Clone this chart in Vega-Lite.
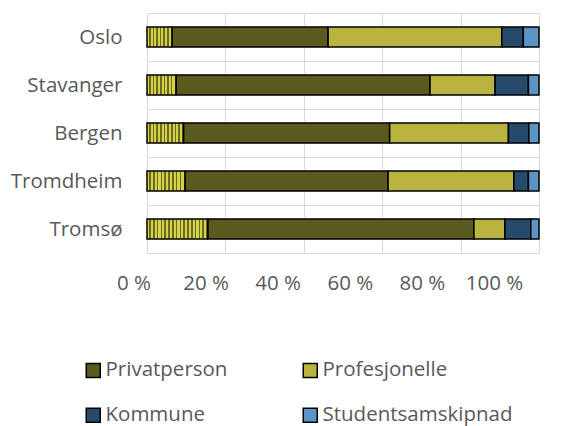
{
  "$schema": "https://vega.github.io/schema/vega-lite/v6.json",
  "autosize": "none",
  "width": 392,
  "height": 240,
  "padding": {"left": 147, "top": 13, "right": 30, "bottom": 173},
  "config": {
    "view": {"stroke": null},
    "font": "Open Sans"
  },
  "data": {
    "values": [
      {"city": "Oslo", "type": "Annet", "value": 6.4},
      {"city": "Oslo", "type": "Privatperson", "value": 39.8},
      {"city": "Oslo", "type": "Profesjonelle", "value": 44.3},
      {"city": "Oslo", "type": "Kommune", "value": 5.5},
      {"city": "Oslo", "type": "Studentsamskipnad", "value": 4.0},
      {"city": "Stavanger", "type": "Annet", "value": 7.4},
      {"city": "Stavanger", "type": "Privatperson", "value": 64.8},
      {"city": "Stavanger", "type": "Profesjonelle", "value": 16.6},
      {"city": "Stavanger", "type": "Kommune", "value": 8.5},
      {"city": "Stavanger", "type": "Studentsamskipnad", "value": 2.7},
      {"city": "Bergen", "type": "Annet", "value": 9.3},
      {"city": "Bergen", "type": "Privatperson", "value": 52.6},
      {"city": "Bergen", "type": "Profesjonelle", "value": 30.3},
      {"city": "Bergen", "type": "Kommune", "value": 5.2},
      {"city": "Bergen", "type": "Studentsamskipnad", "value": 2.6},
      {"city": "Tromdheim", "type": "Annet", "value": 9.7},
      {"city": "Tromdheim", "type": "Privatperson", "value": 51.8},
      {"city": "Tromdheim", "type": "Profesjonelle", "value": 32.1},
      {"city": "Tromdheim", "type": "Kommune", "value": 3.7},
      {"city": "Tromdheim", "type": "Studentsamskipnad", "value": 2.7},
      {"city": "Tromsø", "type": "Annet", "value": 15.5},
      {"city": "Tromsø", "type": "Privatperson", "value": 67.9},
      {"city": "Tromsø", "type": "Profesjonelle", "value": 7.9},
      {"city": "Tromsø", "type": "Kommune", "value": 6.6},
      {"city": "Tromsø", "type": "Studentsamskipnad", "value": 2.1}
    ]
  },
  "transform": [
    {"stack": "value", "groupby": ["city"], "offset": "normalize", "as": ["x0", "x1"]}
  ],
  "encoding": {
    "y": {
      "field": "city",
      "type": "nominal",
      "sort": ["Oslo", "Stavanger", "Bergen", "Tromdheim", "Tromsø"],
      "scale": {"paddingInner": 0, "paddingOuter": 0},
      "axis": {
        "title": null,
        "domain": false,
        "ticks": false,
        "tickSize": 0,
        "grid": true,
        "tickBand": "extent",
        "gridColor": "#D9D9D9",
        "gridWidth": 1,
        "labelPadding": 25,
        "labelFontSize": 20.5,
        "labelFont": "Open Sans",
        "labelColor": "#595959"
      }
    },
    "x": {
      "field": "x0",
      "type": "quantitative",
      "scale": {"domain": [0, 1], "nice": false},
      "axis": {
        "title": null,
        "values": [0, 0.2, 0.4, 0.6, 0.8, 1],
        "labelExpr": "round(datum.value*100) + ' %'",
        "labelOverlap": false,
        "labelFlush": false,
        "domain": false,
        "ticks": false,
        "tickSize": 0,
        "grid": true,
        "gridColor": "#D9D9D9",
        "gridWidth": 1,
        "labelPadding": 20,
        "labelFontSize": 20.5,
        "labelFont": "Open Sans",
        "labelColor": "#595959",
        "labelOffset": {"expr": "-13.5 - 31.5*datum.value"}
      }
    },
    "x2": {"field": "x1"}
  },
  "layer": [
    {
      "transform": [{"filter": "datum.type !== 'Annet'"}],
      "mark": {"type": "bar", "stroke": "black", "strokeWidth": 1.5, "height": {"band": 0.42}},
      "encoding": {
        "color": {
          "field": "type",
          "type": "nominal",
          "scale": {
            "domain": ["Privatperson", "Profesjonelle", "Kommune", "Studentsamskipnad"],
            "range": ["#5B5A1E", "#B8B43F", "#274A6A", "#5B94C5"]
          },
          "legend": {
            "orient": "none",
            "direction": "horizontal",
            "legendX": -64,
            "legendY": 347,
            "columns": 2,
            "title": null,
            "symbolType": "square",
            "symbolSize": 196,
            "symbolStrokeColor": "black",
            "symbolStrokeWidth": 1.5,
            "symbolOpacity": 1,
            "labelFontSize": 20.5,
            "labelFont": "Open Sans",
            "labelColor": "#595959",
            "labelOffset": 2,
            "labelLimit": 400,
            "rowPadding": 24,
            "columnPadding": 72
          }
        }
      }
    },
    {
      "transform": [{"filter": "datum.type === 'Annet' && datum.city === 'Oslo'"}],
      "mark": {"type": "bar", "stroke": "black", "strokeWidth": 1.5, "height": {"band": 0.42},
        "fill": {"gradient": "linear", "x1": 0, "x2": 1, "y1": 0, "y2": 0, "stops": [
          {"offset": 0, "color": "#D4D146"}, {"offset": 0.0857, "color": "#D4D146"}, {"offset": 0.0857, "color": "#6B6A24"}, {"offset": 0.1429, "color": "#6B6A24"},
          {"offset": 0.1429, "color": "#D4D146"}, {"offset": 0.2286, "color": "#D4D146"}, {"offset": 0.2286, "color": "#6B6A24"}, {"offset": 0.2857, "color": "#6B6A24"},
          {"offset": 0.2857, "color": "#D4D146"}, {"offset": 0.3714, "color": "#D4D146"}, {"offset": 0.3714, "color": "#6B6A24"}, {"offset": 0.4286, "color": "#6B6A24"},
          {"offset": 0.4286, "color": "#D4D146"}, {"offset": 0.5143, "color": "#D4D146"}, {"offset": 0.5143, "color": "#6B6A24"}, {"offset": 0.5714, "color": "#6B6A24"},
          {"offset": 0.5714, "color": "#D4D146"}, {"offset": 0.6571, "color": "#D4D146"}, {"offset": 0.6571, "color": "#6B6A24"}, {"offset": 0.7143, "color": "#6B6A24"},
          {"offset": 0.7143, "color": "#D4D146"}, {"offset": 0.8, "color": "#D4D146"}, {"offset": 0.8, "color": "#6B6A24"}, {"offset": 0.8571, "color": "#6B6A24"},
          {"offset": 0.8571, "color": "#D4D146"}, {"offset": 0.9429, "color": "#D4D146"}, {"offset": 0.9429, "color": "#6B6A24"}, {"offset": 1, "color": "#6B6A24"}
        ]}}
    },
    {
      "transform": [{"filter": "datum.type === 'Annet' && datum.city === 'Stavanger'"}],
      "mark": {"type": "bar", "stroke": "black", "strokeWidth": 1.5, "height": {"band": 0.42},
        "fill": {"gradient": "linear", "x1": 0, "x2": 1, "y1": 0, "y2": 0, "stops": [
          {"offset": 0, "color": "#D4D146"}, {"offset": 0.075, "color": "#D4D146"}, {"offset": 0.075, "color": "#6B6A24"}, {"offset": 0.125, "color": "#6B6A24"},
          {"offset": 0.125, "color": "#D4D146"}, {"offset": 0.2, "color": "#D4D146"}, {"offset": 0.2, "color": "#6B6A24"}, {"offset": 0.25, "color": "#6B6A24"},
          {"offset": 0.25, "color": "#D4D146"}, {"offset": 0.325, "color": "#D4D146"}, {"offset": 0.325, "color": "#6B6A24"}, {"offset": 0.375, "color": "#6B6A24"},
          {"offset": 0.375, "color": "#D4D146"}, {"offset": 0.45, "color": "#D4D146"}, {"offset": 0.45, "color": "#6B6A24"}, {"offset": 0.5, "color": "#6B6A24"},
          {"offset": 0.5, "color": "#D4D146"}, {"offset": 0.575, "color": "#D4D146"}, {"offset": 0.575, "color": "#6B6A24"}, {"offset": 0.625, "color": "#6B6A24"},
          {"offset": 0.625, "color": "#D4D146"}, {"offset": 0.7, "color": "#D4D146"}, {"offset": 0.7, "color": "#6B6A24"}, {"offset": 0.75, "color": "#6B6A24"},
          {"offset": 0.75, "color": "#D4D146"}, {"offset": 0.825, "color": "#D4D146"}, {"offset": 0.825, "color": "#6B6A24"}, {"offset": 0.875, "color": "#6B6A24"},
          {"offset": 0.875, "color": "#D4D146"}, {"offset": 0.95, "color": "#D4D146"}, {"offset": 0.95, "color": "#6B6A24"}, {"offset": 1, "color": "#6B6A24"}
        ]}}
    },
    {
      "transform": [{"filter": "datum.type === 'Annet' && (datum.city === 'Bergen' || datum.city === 'Tromdheim')"}],
      "mark": {"type": "bar", "stroke": "black", "strokeWidth": 1.5, "height": {"band": 0.42},
        "fill": {"gradient": "linear", "x1": 0, "x2": 1, "y1": 0, "y2": 0, "stops": [
          {"offset": 0, "color": "#D4D146"}, {"offset": 0.06, "color": "#D4D146"}, {"offset": 0.06, "color": "#6B6A24"}, {"offset": 0.1, "color": "#6B6A24"},
          {"offset": 0.1, "color": "#D4D146"}, {"offset": 0.16, "color": "#D4D146"}, {"offset": 0.16, "color": "#6B6A24"}, {"offset": 0.2, "color": "#6B6A24"},
          {"offset": 0.2, "color": "#D4D146"}, {"offset": 0.26, "color": "#D4D146"}, {"offset": 0.26, "color": "#6B6A24"}, {"offset": 0.3, "color": "#6B6A24"},
          {"offset": 0.3, "color": "#D4D146"}, {"offset": 0.36, "color": "#D4D146"}, {"offset": 0.36, "color": "#6B6A24"}, {"offset": 0.4, "color": "#6B6A24"},
          {"offset": 0.4, "color": "#D4D146"}, {"offset": 0.46, "color": "#D4D146"}, {"offset": 0.46, "color": "#6B6A24"}, {"offset": 0.5, "color": "#6B6A24"},
          {"offset": 0.5, "color": "#D4D146"}, {"offset": 0.56, "color": "#D4D146"}, {"offset": 0.56, "color": "#6B6A24"}, {"offset": 0.6, "color": "#6B6A24"},
          {"offset": 0.6, "color": "#D4D146"}, {"offset": 0.66, "color": "#D4D146"}, {"offset": 0.66, "color": "#6B6A24"}, {"offset": 0.7, "color": "#6B6A24"},
          {"offset": 0.7, "color": "#D4D146"}, {"offset": 0.76, "color": "#D4D146"}, {"offset": 0.76, "color": "#6B6A24"}, {"offset": 0.8, "color": "#6B6A24"},
          {"offset": 0.8, "color": "#D4D146"}, {"offset": 0.86, "color": "#D4D146"}, {"offset": 0.86, "color": "#6B6A24"}, {"offset": 0.9, "color": "#6B6A24"},
          {"offset": 0.9, "color": "#D4D146"}, {"offset": 0.96, "color": "#D4D146"}, {"offset": 0.96, "color": "#6B6A24"}, {"offset": 1, "color": "#6B6A24"}
        ]}}
    },
    {
      "transform": [{"filter": "datum.type === 'Annet' && datum.city === 'Tromsø'"}],
      "mark": {"type": "bar", "stroke": "black", "strokeWidth": 1.5, "height": {"band": 0.42},
        "fill": {"gradient": "linear", "x1": 0, "x2": 1, "y1": 0, "y2": 0, "stops": [
          {"offset": 0, "color": "#D4D146"}, {"offset": 0.0375, "color": "#D4D146"}, {"offset": 0.0375, "color": "#6B6A24"}, {"offset": 0.0625, "color": "#6B6A24"},
          {"offset": 0.0625, "color": "#D4D146"}, {"offset": 0.1, "color": "#D4D146"}, {"offset": 0.1, "color": "#6B6A24"}, {"offset": 0.125, "color": "#6B6A24"},
          {"offset": 0.125, "color": "#D4D146"}, {"offset": 0.1625, "color": "#D4D146"}, {"offset": 0.1625, "color": "#6B6A24"}, {"offset": 0.1875, "color": "#6B6A24"},
          {"offset": 0.1875, "color": "#D4D146"}, {"offset": 0.225, "color": "#D4D146"}, {"offset": 0.225, "color": "#6B6A24"}, {"offset": 0.25, "color": "#6B6A24"},
          {"offset": 0.25, "color": "#D4D146"}, {"offset": 0.2875, "color": "#D4D146"}, {"offset": 0.2875, "color": "#6B6A24"}, {"offset": 0.3125, "color": "#6B6A24"},
          {"offset": 0.3125, "color": "#D4D146"}, {"offset": 0.35, "color": "#D4D146"}, {"offset": 0.35, "color": "#6B6A24"}, {"offset": 0.375, "color": "#6B6A24"},
          {"offset": 0.375, "color": "#D4D146"}, {"offset": 0.4125, "color": "#D4D146"}, {"offset": 0.4125, "color": "#6B6A24"}, {"offset": 0.4375, "color": "#6B6A24"},
          {"offset": 0.4375, "color": "#D4D146"}, {"offset": 0.475, "color": "#D4D146"}, {"offset": 0.475, "color": "#6B6A24"}, {"offset": 0.5, "color": "#6B6A24"},
          {"offset": 0.5, "color": "#D4D146"}, {"offset": 0.5375, "color": "#D4D146"}, {"offset": 0.5375, "color": "#6B6A24"}, {"offset": 0.5625, "color": "#6B6A24"},
          {"offset": 0.5625, "color": "#D4D146"}, {"offset": 0.6, "color": "#D4D146"}, {"offset": 0.6, "color": "#6B6A24"}, {"offset": 0.625, "color": "#6B6A24"},
          {"offset": 0.625, "color": "#D4D146"}, {"offset": 0.6625, "color": "#D4D146"}, {"offset": 0.6625, "color": "#6B6A24"}, {"offset": 0.6875, "color": "#6B6A24"},
          {"offset": 0.6875, "color": "#D4D146"}, {"offset": 0.725, "color": "#D4D146"}, {"offset": 0.725, "color": "#6B6A24"}, {"offset": 0.75, "color": "#6B6A24"},
          {"offset": 0.75, "color": "#D4D146"}, {"offset": 0.7875, "color": "#D4D146"}, {"offset": 0.7875, "color": "#6B6A24"}, {"offset": 0.8125, "color": "#6B6A24"},
          {"offset": 0.8125, "color": "#D4D146"}, {"offset": 0.85, "color": "#D4D146"}, {"offset": 0.85, "color": "#6B6A24"}, {"offset": 0.875, "color": "#6B6A24"},
          {"offset": 0.875, "color": "#D4D146"}, {"offset": 0.9125, "color": "#D4D146"}, {"offset": 0.9125, "color": "#6B6A24"}, {"offset": 0.9375, "color": "#6B6A24"},
          {"offset": 0.9375, "color": "#D4D146"}, {"offset": 0.975, "color": "#D4D146"}, {"offset": 0.975, "color": "#6B6A24"}, {"offset": 1, "color": "#6B6A24"}
        ]}}
    }
  ]
}
